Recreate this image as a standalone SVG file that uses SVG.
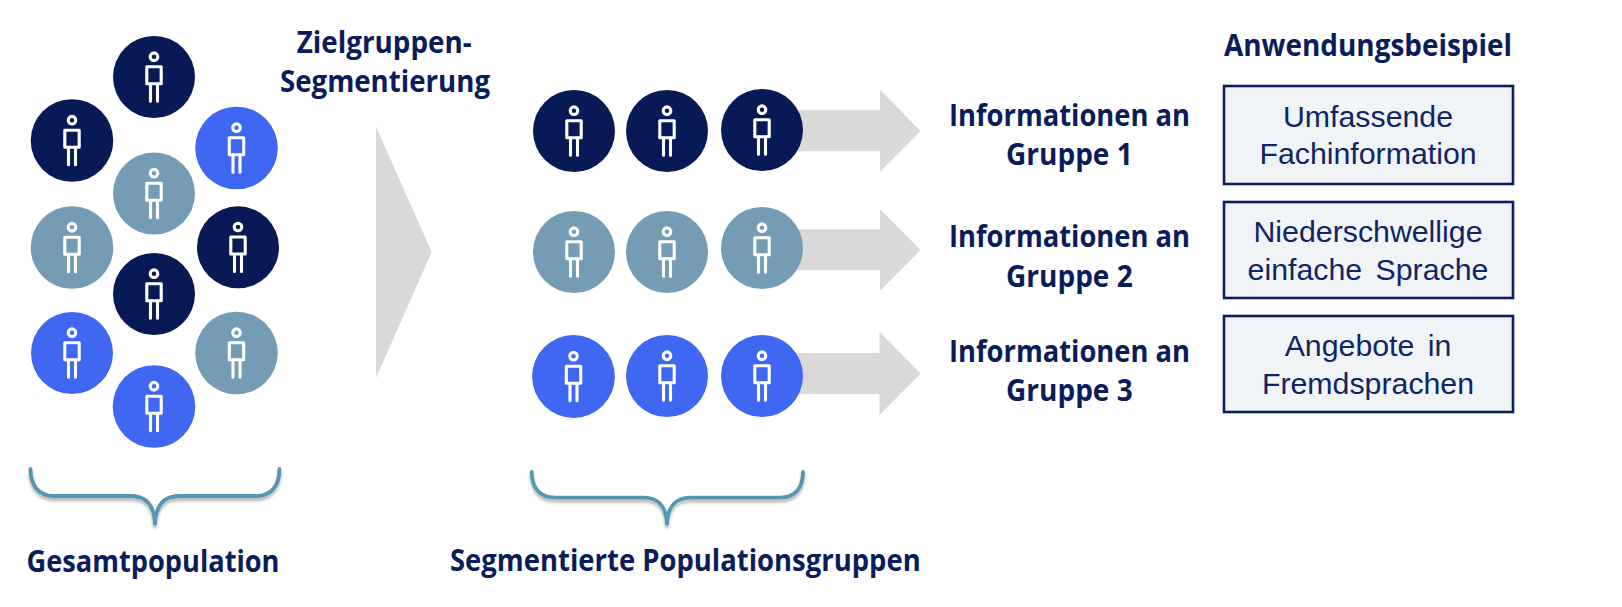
<svg xmlns="http://www.w3.org/2000/svg" xmlns:xlink="http://www.w3.org/1999/xlink" width="1622" height="607" viewBox="0 0 1622 607">
<style>
.n{fill:#081a56}.t{fill:#759cb5}.b{fill:#3f67f2}
.fig{fill:none;stroke:#fff;stroke-width:3.1;stroke-linecap:round;stroke-linejoin:round}
.arrow{fill:#d9d9d9}
.brace{fill:none;stroke:#5596b5;stroke-width:3.8;stroke-linecap:round;filter:url(#sh)}
.h{font-family:"Open Sans","Lato","Liberation Sans",sans-serif;font-weight:700;font-size:29.5px;fill:#0a1c5a}
.box-r{fill:#f0f4f7;stroke:#0a1f5f;stroke-width:2.6}
.bt{font-family:"Liberation Sans",Arial,sans-serif;font-size:30.3px;fill:#0f2566;text-anchor:middle;word-spacing:5px}
</style>
<defs>
<filter id="sh" x="-10%" y="-30%" width="120%" height="170%"><feGaussianBlur in="SourceAlpha" stdDeviation="1.4"/><feOffset dy="2.5"/><feComponentTransfer><feFuncA type="linear" slope="0.3"/></feComponentTransfer><feMerge><feMergeNode/><feMergeNode in="SourceGraphic"/></feMerge></filter>
<g id="fig"><circle cy="-20.3" r="3.8" class="fig"/><rect x="-7.2" y="-10.3" width="14.4" height="17" class="fig"/><path d="M-3.5 7V24.2M3.5 7V24.2" class="fig"/></g>
</defs>
<g id="connectors">
<path class="arrow" d="M790 110.3H880V90L920.5 131 880 171.7V151.3H790Z"/>
<path class="arrow" d="M790 229.3H880V209L920.5 250 880 290.7V270.3H790Z"/>
<path class="arrow" d="M790 353H879.5V332L920.5 373.5 879.5 415V394H790Z"/>
<path class="arrow" d="M376 126.7L431.7 252 376 378Z"/>
</g>
<g id="pop-1"><circle class="n" cx="154" cy="77" r="41"/><use href="#fig" x="154" y="77"/></g>
<g id="pop-2"><circle class="n" cx="72" cy="140.5" r="41.3"/><use href="#fig" x="72" y="140.5"/></g>
<g id="pop-3"><circle class="b" cx="236.5" cy="148" r="41.3"/><use href="#fig" x="236.5" y="148"/></g>
<g id="pop-4"><circle class="t" cx="154" cy="193.5" r="41"/><use href="#fig" x="154" y="193.5"/></g>
<g id="pop-5"><circle class="t" cx="72" cy="247.5" r="41.3"/><use href="#fig" x="72" y="247.5"/></g>
<g id="pop-6"><circle class="n" cx="238" cy="247.3" r="41"/><use href="#fig" x="238" y="247.3"/></g>
<g id="pop-7"><circle class="n" cx="154" cy="294" r="41"/><use href="#fig" x="154" y="294"/></g>
<g id="pop-8"><circle class="b" cx="72" cy="353" r="41"/><use href="#fig" x="72" y="353"/></g>
<g id="pop-9"><circle class="t" cx="236.5" cy="353" r="41.3"/><use href="#fig" x="236.5" y="353"/></g>
<g id="pop-10"><circle class="b" cx="154" cy="406.5" r="41.3"/><use href="#fig" x="154" y="406.5"/></g>
<g id="g1-1"><circle class="n" cx="574" cy="131" r="41"/><use href="#fig" x="574" y="131"/></g>
<g id="g1-2"><circle class="n" cx="667" cy="131" r="41"/><use href="#fig" x="667" y="131"/></g>
<g id="g1-3"><circle class="n" cx="762" cy="130" r="41"/><use href="#fig" x="762" y="130"/></g>
<g id="g2-1"><circle class="t" cx="574" cy="252" r="41"/><use href="#fig" x="574" y="252"/></g>
<g id="g2-2"><circle class="t" cx="667" cy="252" r="41"/><use href="#fig" x="667" y="252"/></g>
<g id="g2-3"><circle class="t" cx="762" cy="248" r="41"/><use href="#fig" x="762" y="248"/></g>
<g id="g3-1"><circle class="b" cx="573.5" cy="376.5" r="41.4"/><use href="#fig" x="573.5" y="376.5"/></g>
<g id="g3-2"><circle class="b" cx="667" cy="376" r="41"/><use href="#fig" x="667" y="376"/></g>
<g id="g3-3"><circle class="b" cx="762" cy="376" r="41"/><use href="#fig" x="762" y="376"/></g>
<g id="brace-1"><path class="brace" d="M30.5 469C30.5 485 38.5 496 53.5 496H130.5C146.5 496 154.5 505 155 525C155.5 505 163.5 496 179.5 496H256.5C271.5 496 279.5 485 279.5 469"/></g>
<g id="brace-2"><path class="brace" d="M531.7 472C531.7 488 540 497.7 555 497.7H643C659 497.7 666.5 506 667 525C667.5 506 675 497.7 691 497.7H780C795 497.7 803 488 803 472"/></g>
<g id="labels">
<text class="h" x="296.7" y="52.7" textLength="175" lengthAdjust="spacingAndGlyphs">Zielgruppen-</text>
<text class="h" x="280" y="92.3" textLength="210" lengthAdjust="spacingAndGlyphs">Segmentierung</text>
<text class="h" x="26.5" y="571.7" textLength="253" lengthAdjust="spacingAndGlyphs">Gesamtpopulation</text>
<text class="h" x="450" y="571" textLength="470.7" lengthAdjust="spacingAndGlyphs">Segmentierte Populationsgruppen</text>
<text class="h" x="1224" y="56" textLength="288" lengthAdjust="spacingAndGlyphs">Anwendungsbeispiel</text>
</g>
<g id="info-1"><text class="h" x="949" y="125.7" textLength="241" lengthAdjust="spacingAndGlyphs">Informationen an</text><text class="h" x="1006" y="165" textLength="126.7" lengthAdjust="spacingAndGlyphs">Gruppe 1</text></g>
<g id="info-2"><text class="h" x="949" y="247" textLength="241" lengthAdjust="spacingAndGlyphs">Informationen an</text><text class="h" x="1006" y="286.7" textLength="126.7" lengthAdjust="spacingAndGlyphs">Gruppe 2</text></g>
<g id="info-3"><text class="h" x="949" y="361.7" textLength="241" lengthAdjust="spacingAndGlyphs">Informationen an</text><text class="h" x="1006" y="401" textLength="126.7" lengthAdjust="spacingAndGlyphs">Gruppe 3</text></g>
<g id="box-1"><rect class="box-r" x="1224" y="86" width="289" height="98"/><text class="bt" x="1368" y="126.7">Umfassende</text><text class="bt" x="1368" y="164.3">Fachinformation</text></g>
<g id="box-2"><rect class="box-r" x="1224" y="202" width="289" height="96"/><text class="bt" x="1368" y="242.3">Niederschwellige</text><text class="bt" x="1368" y="280">einfache Sprache</text></g>
<g id="box-3"><rect class="box-r" x="1224" y="316" width="289" height="96"/><text class="bt" x="1368" y="356">Angebote in</text><text class="bt" x="1368" y="394">Fremdsprachen</text></g>
</svg>
